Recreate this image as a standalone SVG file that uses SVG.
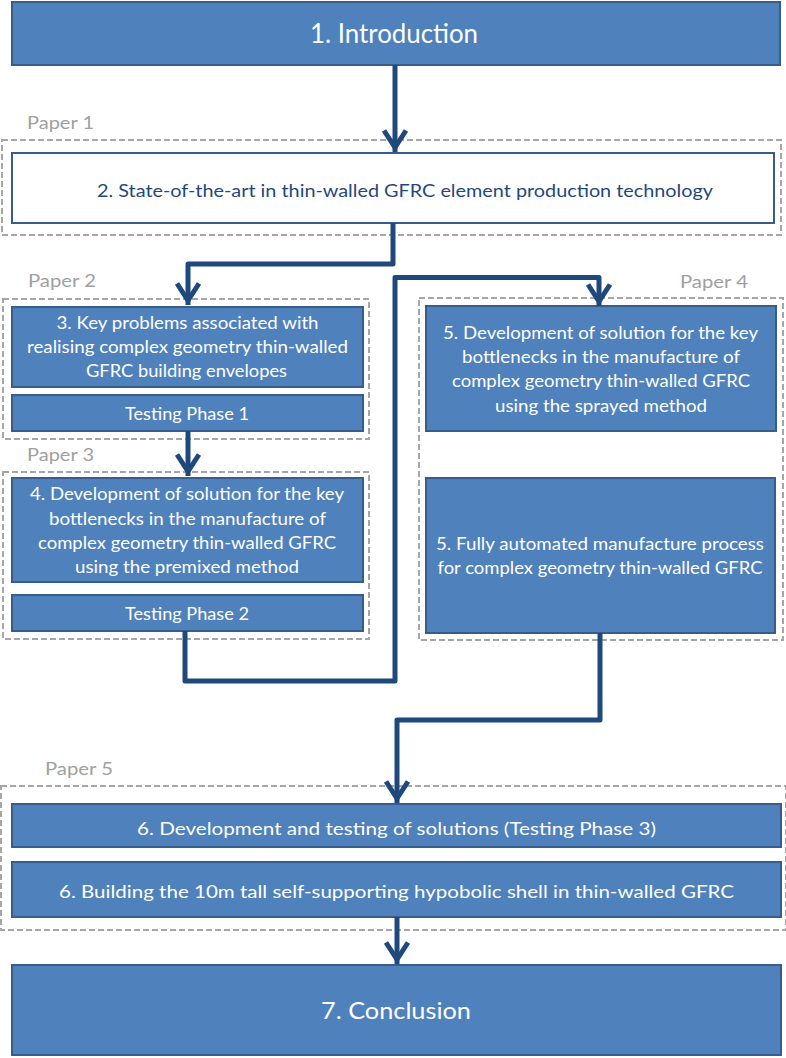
<svg xmlns="http://www.w3.org/2000/svg" width="786" height="1058" viewBox="0 0 786 1058">
<style>
.box{fill:#4F81BD;stroke:#385D8A;stroke-width:2}
.wbox{fill:#FFFFFF;stroke:#385D8A;stroke-width:2}
.grp{fill:none;stroke:#A6A6A6;stroke-width:2;stroke-dasharray:6 3}
.t{font-family:Lato,"Open Sans",sans-serif;fill:#FFFFFF;text-anchor:middle;font-size:17px}
.dt{font-family:Lato,"Open Sans",sans-serif;fill:#1F497D;text-anchor:middle;font-size:17px}
.lbl{font-family:Lato,"Open Sans",sans-serif;fill:#A0A0A0;font-size:18px}
.con{fill:none;stroke:#1F497D;stroke-width:5;stroke-linejoin:round;marker-end:url(#chev)}
</style>
<defs>
<marker id="chev" markerUnits="userSpaceOnUse" viewBox="-22 -16 32 32" markerWidth="32" markerHeight="32" refX="4.5" refY="0" orient="auto">
<path d="M-17,-11 L0,0 L-17,11" fill="none" stroke="#1F497D" stroke-width="5" stroke-linejoin="miter"/>
</marker>
</defs>

<g id="groups">
<rect class="grp" x="2" y="140" width="779" height="95"/>
<text class="lbl" x="27" y="129" textLength="67" lengthAdjust="spacingAndGlyphs">Paper 1</text>
<rect class="grp" x="3" y="299" width="366" height="140"/>
<text class="lbl" x="28" y="287" textLength="68" lengthAdjust="spacingAndGlyphs">Paper 2</text>
<rect class="grp" x="3" y="472" width="366" height="167"/>
<text class="lbl" x="27" y="461" textLength="67" lengthAdjust="spacingAndGlyphs">Paper 3</text>
<rect class="grp" x="419" y="298" width="364" height="342"/>
<text class="lbl" x="680" y="288" textLength="68" lengthAdjust="spacingAndGlyphs">Paper 4</text>
<rect class="grp" x="1" y="786" width="785" height="144"/>
<text class="lbl" x="45" y="775" textLength="68" lengthAdjust="spacingAndGlyphs">Paper 5</text>
</g>

<g id="n1">
<rect class="box" x="12" y="2" width="768" height="63"/>
<text class="t" x="394" y="43" style="font-size:26px" textLength="168" lengthAdjust="spacingAndGlyphs">1. Introduction</text>
</g>

<g id="n2">
<rect class="wbox" x="12" y="153" width="762" height="70"/>
<text class="dt" x="405" y="197" textLength="616" lengthAdjust="spacingAndGlyphs">2. State-of-the-art in thin-walled GFRC element production technology</text>
</g>

<g id="n3">
<rect class="box" x="12" y="307" width="351" height="80"/>
<text class="t" x="187.5" y="329" textLength="262" lengthAdjust="spacingAndGlyphs">3. Key problems associated with</text>
<text class="t" x="187.5" y="353" textLength="321" lengthAdjust="spacingAndGlyphs">realising complex geometry thin-walled</text>
<text class="t" x="186.5" y="377" textLength="201" lengthAdjust="spacingAndGlyphs">GFRC building envelopes</text>
</g>

<g id="tp1">
<rect class="box" x="12" y="395" width="351" height="36"/>
<text class="t" x="187" y="420" textLength="124" lengthAdjust="spacingAndGlyphs">Testing Phase 1</text>
</g>

<g id="n4">
<rect class="box" x="12" y="478" width="351" height="104"/>
<text class="t" x="187" y="500" textLength="314" lengthAdjust="spacingAndGlyphs">4. Development of solution for the key</text>
<text class="t" x="187.5" y="525" textLength="277" lengthAdjust="spacingAndGlyphs">bottlenecks in the manufacture of</text>
<text class="t" x="187" y="549" textLength="298" lengthAdjust="spacingAndGlyphs">complex geometry thin-walled GFRC</text>
<text class="t" x="187" y="573" textLength="224" lengthAdjust="spacingAndGlyphs">using the premixed method</text>
</g>

<g id="tp2">
<rect class="box" x="12" y="595" width="351" height="36"/>
<text class="t" x="187" y="620" textLength="124" lengthAdjust="spacingAndGlyphs">Testing Phase 2</text>
</g>

<g id="n5a">
<rect class="box" x="426" y="306" width="350" height="125"/>
<text class="t" x="600.5" y="339" textLength="315" lengthAdjust="spacingAndGlyphs">5. Development of solution for the key</text>
<text class="t" x="601" y="363" textLength="278" lengthAdjust="spacingAndGlyphs">bottlenecks in the manufacture of</text>
<text class="t" x="601" y="387" textLength="298" lengthAdjust="spacingAndGlyphs">complex geometry thin-walled GFRC</text>
<text class="t" x="601" y="412" textLength="212" lengthAdjust="spacingAndGlyphs">using the sprayed method</text>
</g>

<g id="n5b">
<rect class="box" x="426" y="478" width="349" height="155"/>
<text class="t" x="600" y="550" textLength="328" lengthAdjust="spacingAndGlyphs">5. Fully automated manufacture process</text>
<text class="t" x="600" y="574" textLength="325" lengthAdjust="spacingAndGlyphs">for complex geometry thin-walled GFRC</text>
</g>

<g id="n6a">
<rect class="box" x="12" y="804" width="769" height="43"/>
<text class="t" x="396.5" y="835" textLength="519" lengthAdjust="spacingAndGlyphs">6. Development and testing of solutions (Testing Phase 3)</text>
</g>

<g id="n6b">
<rect class="box" x="12" y="862" width="769" height="55"/>
<text class="t" x="396.5" y="898" textLength="675" lengthAdjust="spacingAndGlyphs">6. Building the 10m tall self-supporting hypobolic shell in thin-walled GFRC</text>
</g>

<g id="n7">
<rect class="box" x="12" y="965" width="769" height="90"/>
<text class="t" x="396" y="1019" style="font-size:24px" textLength="150" lengthAdjust="spacingAndGlyphs">7. Conclusion</text>
</g>

<g id="connectors">
<path class="con" d="M395 65 V152"/>
<path class="con" d="M393 223 V264 H188 V305"/>
<path class="con" d="M188 431 V476"/>
<path class="con" d="M185 631 V681 H395 V277.5 H599 V306"/>
<path class="con" d="M600 633 V720 H397 V803"/>
<path class="con" d="M397 917 V964"/>
</g>
</svg>
